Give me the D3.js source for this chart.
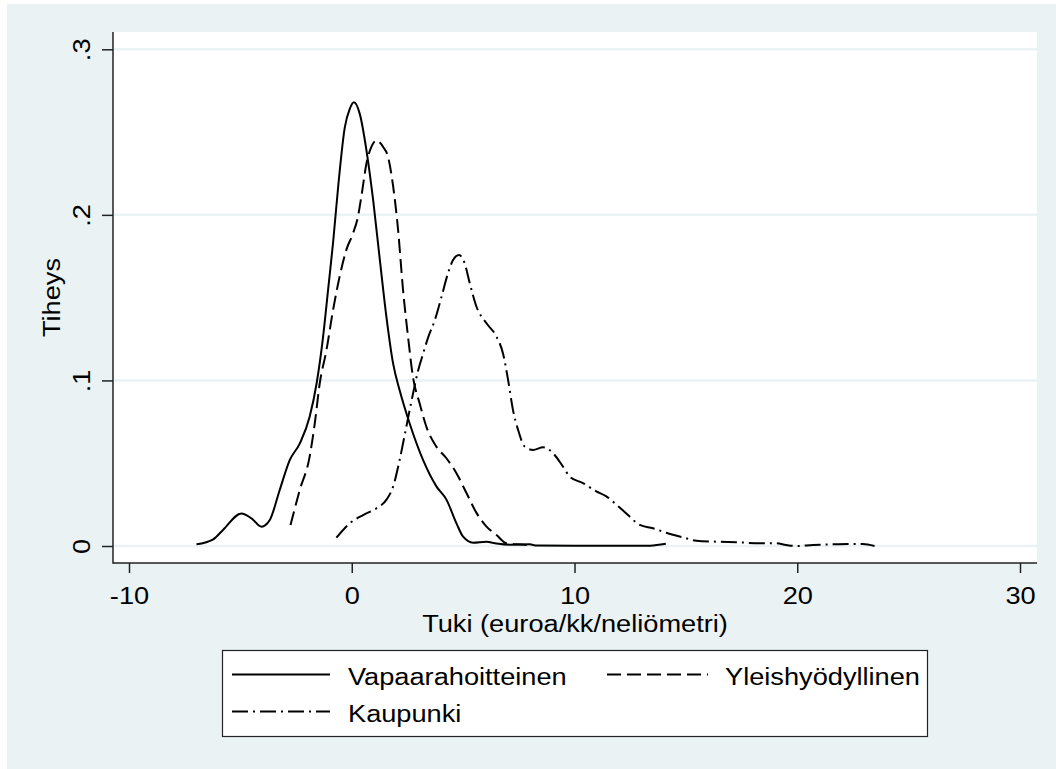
<!DOCTYPE html>
<html>
<head>
<meta charset="utf-8">
<script src="https://cdn.jsdelivr.net/npm/d3@7"></script>
<style>
  html, body { margin: 0; padding: 0; background: #ffffff; }
  svg { display: block; }
  text { font-family: "Liberation Sans", Arial, Helvetica, sans-serif; fill: #000; }
</style>
</head>
<body>
<svg id="chart" width="1056" height="769"></svg>
<script>
// ---- data ----
const xTicks = [-10, 0, 10, 20, 30];
const xTickLabels = ["-10", "0", "10", "20", "30"];
const yTicks = [0, 0.1, 0.2, 0.3];
const yTickLabels = ["0", ".1", ".2", ".3"];

const seriesNames = ["Vapaarahoitteinen", "Yleishyödyllinen", "Kaupunki"];

const vapX = [-6.97, -6.22, -5.78, -4.95, -4.5, -4.05, -3.68, -3.23, -2.78, -2.33, -1.89, -1.58, -1.29, -1.06, -0.84, -0.61, -0.31, -0.09, 0.1, 0.36, 0.66, 0.96, 1.26, 1.56, 1.86, 2.15, 2.6, 3.2, 3.8, 4.25, 4.7, 5.0, 5.45, 6.04, 6.5, 7.09, 7.99, 8.3, 10, 12, 13.4, 14.1];
const vapY = [0.001, 0.004, 0.0097, 0.0197, 0.0167, 0.0117, 0.0157, 0.034, 0.052, 0.062, 0.078, 0.098, 0.126, 0.155, 0.183, 0.217, 0.253, 0.264, 0.268, 0.261, 0.239, 0.209, 0.173, 0.138, 0.11, 0.094, 0.074, 0.052, 0.036, 0.028, 0.0137, 0.0056, 0.002, 0.0026, 0.0015, 0.0008, 0.001, 0.0003, 0.0001, 0.0001, 0.0002, 0.0013];

const yleX = [-2.75, -2.33, -1.89, -1.66, -1.44, -1.14, -0.84, -0.54, -0.24, 0.06, 0.28, 0.43, 0.66, 0.88, 1.11, 1.41, 1.63, 1.86, 2.08, 2.3, 2.53, 2.75, 3.05, 3.35, 3.8, 4.25, 4.7, 5.15, 5.6, 6.05, 6.5, 6.94, 7.39, 8.0];
const yleY = [0.0127, 0.034, 0.054, 0.074, 0.098, 0.118, 0.1425, 0.163, 0.179, 0.189, 0.199, 0.211, 0.231, 0.241, 0.245, 0.241, 0.235, 0.217, 0.191, 0.155, 0.126, 0.102, 0.086, 0.072, 0.06, 0.053, 0.044, 0.032, 0.02, 0.0117, 0.0066, 0.0016, 0.001, 0.0005];

const kauX = [-0.69, -0.09, 0.51, 1.11, 1.56, 1.86, 2.15, 2.45, 2.75, 2.98, 3.2, 3.43, 3.73, 4.03, 4.32, 4.55, 4.82, 5.07, 5.3, 5.6, 6.05, 6.5, 6.79, 7.02, 7.24, 7.47, 7.77, 8.14, 8.59, 9.04, 9.48, 9.78, 10.38, 10.98, 11.43, 11.88, 12.4, 12.93, 13.52, 14.12, 14.87, 15.47, 16.37, 17.41, 18.31, 19.06, 19.5, 19.96, 20.7, 21.6, 22.5, 22.95, 23.47];
const kauY = [0.005, 0.0137, 0.0187, 0.0228, 0.028, 0.036, 0.052, 0.072, 0.092, 0.106, 0.116, 0.126, 0.1365, 0.1505, 0.1647, 0.1727, 0.1757, 0.1707, 0.1586, 0.1445, 0.1345, 0.1264, 0.1163, 0.1002, 0.0821, 0.07, 0.06, 0.058, 0.0596, 0.056, 0.048, 0.042, 0.038, 0.033, 0.03, 0.025, 0.0187, 0.0127, 0.0107, 0.008, 0.0052, 0.0032, 0.0026, 0.0022, 0.0016, 0.0016, 0.0006, 0.0, 0.0006, 0.001, 0.0012, 0.0012, 0.0];

// ---- layout ----
const W = 1056, H = 769;
const plot = { left: 113, right: 1037, top: 32, bottom: 563 };
const BG = "#eaf2f3";
const FS = 24.5;      // font size
const SX = 1.11;      // horizontal stretch of the Stata text

const svg = d3.select("#chart");

// outer graph region
svg.append("rect").attr("x", 7).attr("y", 4).attr("width", W - 7).attr("height", H - 4).attr("fill", BG);
// plot region
svg.append("rect").attr("x", plot.left).attr("y", plot.top)
  .attr("width", plot.right - plot.left).attr("height", plot.bottom - plot.top).attr("fill", "#ffffff");

const x = d3.scaleLinear().domain([-10, 30]).range([129, 1020]);
const y = d3.scaleLinear().domain([0, 0.3]).range([546, 49.3]);

function txt(g, px, py, s, anchor, rot) {
  return g.append("text")
    .attr("transform", `translate(${px},${py}) rotate(${rot || 0}) scale(${SX},1)`)
    .attr("text-anchor", anchor || "start")
    .attr("font-size", FS)
    .text(s);
}

// gridlines
svg.append("g").selectAll("line").data(yTicks).join("line")
  .attr("x1", plot.left + 1).attr("x2", plot.right)
  .attr("y1", d => y(d)).attr("y2", d => y(d))
  .attr("stroke", BG).attr("stroke-width", 2.5);

// axes
const yAxis = d3.axisLeft(y).tickValues(yTicks).tickFormat((d, i) => yTickLabels[i]).tickSize(11).tickSizeOuter(0);
const gy = svg.append("g").attr("transform", `translate(${plot.left},0)`).call(yAxis);
gy.select(".domain").remove();
gy.selectAll(".tick line").attr("stroke", "#222").attr("stroke-width", 1.5);
gy.selectAll(".tick text").remove();
gy.selectAll(".tick").each(function(d, i) {
  txt(d3.select(this), -23, 0, yTickLabels[i], "middle", -90);
});

const xAxis = d3.axisBottom(x).tickValues(xTicks).tickFormat((d, i) => xTickLabels[i]).tickSize(10).tickSizeOuter(0);
const gx = svg.append("g").attr("transform", `translate(0,${plot.bottom})`).call(xAxis);
gx.select(".domain").remove();
gx.selectAll(".tick line").attr("stroke", "#222").attr("stroke-width", 1.5);
gx.selectAll(".tick text").remove();
gx.selectAll(".tick").each(function(d, i) {
  txt(d3.select(this), 0, 41, xTickLabels[i], "middle", 0);
});

// axis lines
svg.append("line").attr("x1", plot.left).attr("x2", plot.left).attr("y1", plot.top).attr("y2", plot.bottom + 0.75)
  .attr("stroke", "#222").attr("stroke-width", 1.5);
svg.append("line").attr("x1", plot.left).attr("x2", plot.right).attr("y1", plot.bottom).attr("y2", plot.bottom)
  .attr("stroke", "#222").attr("stroke-width", 1.5);

// axis titles
txt(svg, (plot.left + plot.right) / 2, 632, "Tuki (euroa/kk/neliömetri)", "middle", 0);
txt(svg, 60, (plot.top + plot.bottom) / 2, "Tiheys", "middle", -90);

// curves
const dashes = ["none", "14,6", "16,5,2,5"];
const seriesData = [
  d3.zip(vapX, vapY),
  d3.zip(yleX, yleY),
  d3.zip(kauX, kauY)
];
const line = d3.line().x(d => x(d[0])).y(d => y(d[1])).curve(d3.curveMonotoneX);
svg.append("g").selectAll("path").data(seriesData).join("path")
  .attr("d", line)
  .attr("fill", "none")
  .attr("stroke", "#000")
  .attr("stroke-width", 2)
  .attr("stroke-dasharray", (d, i) => dashes[i])
  .attr("stroke-linejoin", "round");

// legend
const lg = svg.append("g");
lg.append("rect").attr("x", 222.5).attr("y", 650.5).attr("width", 705).attr("height", 86)
  .attr("fill", "#fff").attr("stroke", "#222").attr("stroke-width", 1.2);
const legItems = [
  { x1: 232, x2: 330, ly: 674.5, tx: 348, ty: 685 },
  { x1: 607, x2: 708, ly: 674.5, tx: 725, ty: 685 },
  { x1: 232, x2: 330, ly: 711.5, tx: 348, ty: 722 }
];
legItems.forEach((it, i) => {
  lg.append("line").attr("x1", it.x1).attr("x2", it.x2).attr("y1", it.ly).attr("y2", it.ly)
    .attr("stroke", "#000").attr("stroke-width", 2).attr("stroke-dasharray", dashes[i]);
  txt(lg, it.tx, it.ty, seriesNames[i], "start", 0);
});
</script>
</body>
</html>
